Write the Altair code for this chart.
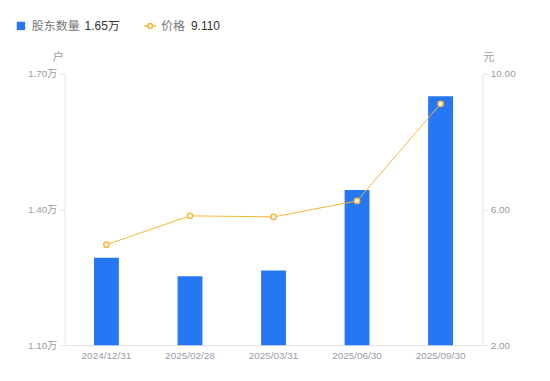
import altair as alt
import pandas as pd

dates = ["2024/12/31", "2025/02/28", "2025/03/31", "2025/06/30", "2025/09/30"]
holders = [1.293, 1.252, 1.265, 1.443, 1.650]  # 万户
prices = [4.96, 5.81, 5.78, 6.25, 9.11]
holder_ticks = [1.1, 1.4, 1.7]
price_ticks = [2, 6, 10]

df = pd.DataFrame({"date": dates, "holders": holders, "price": prices,
                   "base": [holder_ticks[0]] * len(dates)})

FONT = "Liberation Sans, Noto Sans CJK SC, sans-serif"
W, H = 420, 273
BLUE = "#2677F4"
ORANGE = "#F7B53A"
AXIS = "#e3e3e6"
LABEL = "#9a9aa6"

x = alt.X("date:N", sort=dates, title=None,
          scale=alt.Scale(paddingInner=0, paddingOuter=0),
          axis=alt.Axis(labelAngle=0, ticks=False, domainColor=AXIS, labelColor=LABEL,
                        labelFontSize=10, labelPadding=5, labelFont=FONT))

bars = alt.Chart(df).mark_bar(size=25, color=BLUE).encode(
    x=x,
    y=alt.Y("holders:Q",
            scale=alt.Scale(domain=[holder_ticks[0], holder_ticks[-1]], zero=False, nice=False),
            axis=alt.Axis(values=holder_ticks, labelExpr="format(datum.value,'.2f') + '万'",
                          title="户", titleAngle=0, titleX=-7, titleY=-16, titleAlign="center",
                          titleBaseline="middle", titleFontWeight="normal", titleColor=LABEL,
                          titleFontSize=11, titleFont=FONT, grid=False, tickSize=5,
                          tickColor=AXIS, domainColor=AXIS, labelColor=LABEL, labelFontSize=10,
                          labelPadding=3, labelFont=FONT)),
    y2="base:Q",
)

line = alt.Chart(df).mark_line(
    color=ORANGE, strokeWidth=1,
    point=alt.OverlayMarkDef(shape="circle", filled=False, fill="white", stroke=ORANGE,
                             strokeWidth=1.5, size=28, opacity=1),
).encode(
    x=x,
    y=alt.Y("price:Q",
            scale=alt.Scale(domain=[price_ticks[0], price_ticks[-1]], zero=False, nice=False),
            axis=alt.Axis(orient="right", values=price_ticks, format=".2f",
                          title="元", titleAngle=0, titleX=6, titleY=-16, titleAlign="center",
                          titleBaseline="middle", titleFontWeight="normal", titleColor=LABEL,
                          titleFontSize=11, titleFont=FONT, grid=False, tickSize=5,
                          tickColor=AXIS, domainColor=AXIS, labelColor=LABEL, labelFontSize=10,
                          labelPadding=3, labelFont=FONT)),
)

leg = pd.DataFrame({"n1": ["股东数量"], "v1": [f"{holders[-1]:.2f}万"],
                    "n2": ["价格"], "v2": [f"{prices[-1]:.3f}"]})
LY = -48
base_leg = alt.Chart(leg)
leg_sq = base_leg.mark_square(size=70, color=BLUE, opacity=1).encode(
    x=alt.value(-44), y=alt.value(LY))
leg_t1 = base_leg.mark_text(align="left", baseline="middle", fontSize=12, font=FONT,
                            color="#777").encode(x=alt.value(-33), y=alt.value(LY), text="n1:N")
leg_v1 = base_leg.mark_text(align="left", baseline="middle", fontSize=12, font=FONT,
                            color="#333").encode(x=alt.value(20), y=alt.value(LY), text="v1:N")
leg_rule = base_leg.mark_rule(color=ORANGE, strokeWidth=1.5).encode(
    x=alt.value(80), x2=alt.value(92), y=alt.value(LY))
leg_pt = base_leg.mark_point(shape="circle", filled=False, fill="white", stroke=ORANGE,
                             strokeWidth=1.5, size=22, opacity=1).encode(
    x=alt.value(86), y=alt.value(LY))
leg_t2 = base_leg.mark_text(align="left", baseline="middle", fontSize=12, font=FONT,
                            color="#777").encode(x=alt.value(97), y=alt.value(LY), text="n2:N")
leg_v2 = base_leg.mark_text(align="left", baseline="middle", fontSize=12, font=FONT,
                            color="#333").encode(x=alt.value(127), y=alt.value(LY), text="v2:N")

chart = alt.layer(bars, line, leg_sq, leg_t1, leg_v1, leg_rule, leg_pt, leg_t2, leg_v2).resolve_scale(
    y="independent"
).properties(
    width=W, height=H,
    autosize=alt.AutoSizeParams(type="none"),
    padding={"left": 57, "top": 65, "right": 60, "bottom": 30},
).configure_view(stroke=None)

chart.save("out.html", embed_options={"renderer": "svg", "actions": False})
